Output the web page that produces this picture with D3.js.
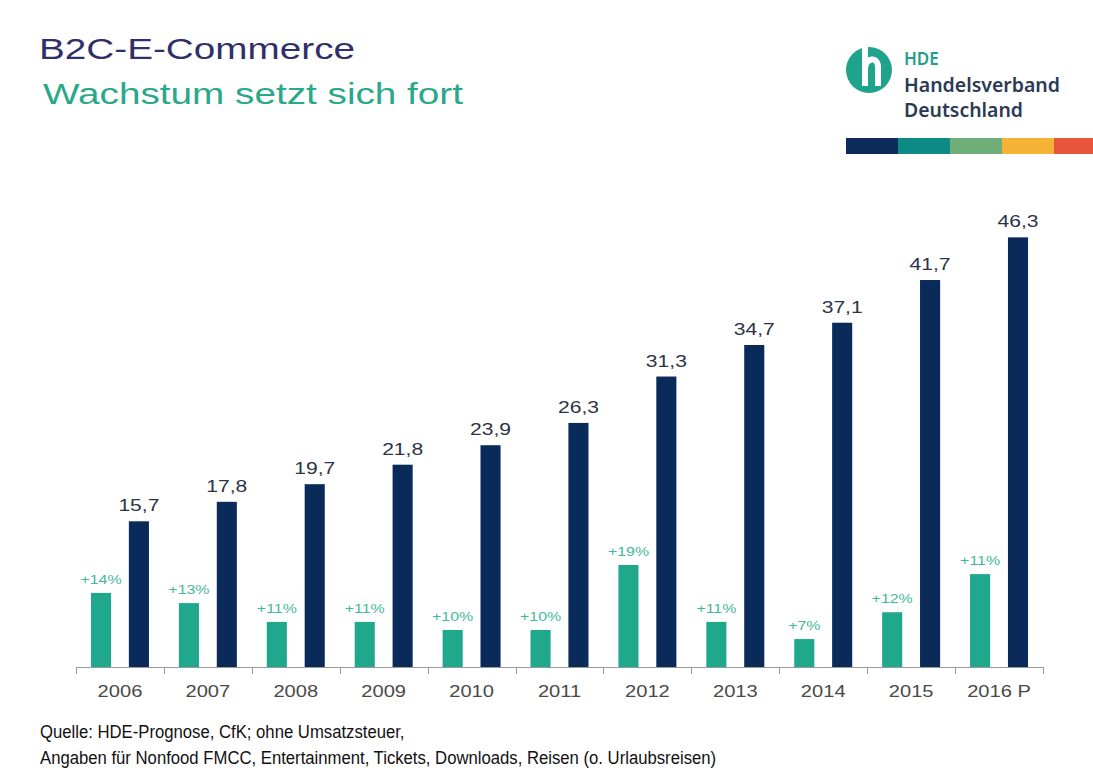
<!DOCTYPE html>
<html>
<head>
<meta charset="utf-8">
<script src="https://cdn.jsdelivr.net/npm/d3@7"></script>
<style>
  body { margin: 0; background: #fff; }
  svg { display: block; font-family: "Liberation Sans", Arial, sans-serif; }
</style>
</head>
<body>
<svg id="chart" width="1093" height="781"></svg>
<script>
// Umsatz B2C-E-Commerce in Mrd. Euro
var years = ['2006', '2007', '2008', '2009', '2010', '2011', '2012', '2013', '2014', '2015', '2016 P'];
var volume = [15.7, 17.8, 19.7, 21.8, 23.9, 26.3, 31.3, 34.7, 37.1, 41.7, 46.3];
var growthLabels = ['+14%', '+13%', '+11%', '+11%', '+10%', '+10%', '+19%', '+11%', '+7%', '+12%', '+11%'];
// growth bar heights as drawn in the source (not exactly proportional to labels)
var growthBar = [13.8, 11.9, 8.4, 8.4, 6.9, 6.9, 19.0, 8.4, 5.2, 10.2, 17.3];
var stripeColors = ['#0d2a5a', '#0e8a85', '#6fae78', '#f5b335', '#e8553a'];

var svg = d3.select('#chart');
var base = 667;

var x = d3.scaleBand().domain(years).range([76, 1043]).paddingInner(0).paddingOuter(0);
var xs = d3.scaleBand().domain(['g', 'v']).range([0, x.bandwidth()]).paddingInner(0.47).paddingOuter(0.395);
var y = d3.scaleLinear().domain([0, 50]).range([base, base - 464]);
var yg = d3.scaleLinear().domain([0, 20]).range([base, base - 107.4]);

// stretched text like the source picture
function sText(g, cx, cy, str, size, color, sx) {
  return g.append('text')
    .attr('transform', 'translate(' + cx + ',' + cy + ') scale(' + sx + ',1)')
    .attr('text-anchor', 'middle')
    .attr('font-size', size)
    .attr('fill', color)
    .text(str);
}

// titel
svg.append('text').attr('x', 39).attr('y', 59).attr('font-size', 30).attr('fill', '#2e2f6b')
  .attr('textLength', 316).attr('lengthAdjust', 'spacingAndGlyphs').text('B2C-E-Commerce');
svg.append('text').attr('x', 43).attr('y', 104).attr('font-size', 30).attr('fill', '#2aa88a')
  .attr('textLength', 420).attr('lengthAdjust', 'spacingAndGlyphs').text('Wachstum setzt sich fort');

// logo
var logo = svg.append('g');
logo.append('circle').attr('cx', 869).attr('cy', 70).attr('r', 23).attr('fill', '#20a38c');
logo.append('path')
  .attr('d', 'M865,47 V86 M865,70 C865,57 878,56 878,67 V86')
  .attr('fill', 'none').attr('stroke', '#fff').attr('stroke-width', 6);
logo.append('text').attr('x', 904).attr('y', 65).attr('font-family', '"Noto Sans", sans-serif')
  .attr('font-weight', 600).attr('font-size', 17).attr('fill', '#1fa08a').text('HDE');
logo.append('text').attr('x', 904).attr('y', 92).attr('font-family', '"Noto Sans", sans-serif')
  .attr('font-weight', 600).attr('font-size', 20).attr('fill', '#2b3a55')
  .attr('textLength', 156).attr('lengthAdjust', 'spacingAndGlyphs').text('Handelsverband');
logo.append('text').attr('x', 904).attr('y', 117).attr('font-family', '"Noto Sans", sans-serif')
  .attr('font-weight', 600).attr('font-size', 20).attr('fill', '#2b3a55')
  .attr('textLength', 119).attr('lengthAdjust', 'spacingAndGlyphs').text('Deutschland');

var sx = d3.scaleBand().domain(d3.range(stripeColors.length)).range([846, 1106]);
logo.selectAll('rect.stripe').data(stripeColors).enter().append('rect')
  .attr('class', 'stripe')
  .attr('x', function (d, i) { return sx(i); })
  .attr('y', 138)
  .attr('width', sx.bandwidth())
  .attr('height', 16)
  .attr('fill', function (d) { return d; });

// balken
var gBars = svg.append('g');
years.forEach(function (yr, i) {
  var x0 = x(yr);
  var gx = x0 + xs('g'), vx = x0 + xs('v');
  gBars.append('rect').attr('x', gx).attr('y', yg(growthBar[i]))
    .attr('width', xs.bandwidth()).attr('height', base - yg(growthBar[i])).attr('fill', '#1fa88b');
  gBars.append('rect').attr('x', vx).attr('y', y(volume[i]))
    .attr('width', xs.bandwidth()).attr('height', base - y(volume[i])).attr('fill', '#0a2b59');

  sText(gBars, gx + xs.bandwidth() / 2, yg(growthBar[i]) - 9, growthLabels[i], 13.5, '#45b89b', 1.18);
  sText(gBars, vx + xs.bandwidth() / 2, y(volume[i]) - 10, d3.format('.1f')(volume[i]).replace('.', ','), 17, '#2c3345', 1.24);
  sText(gBars, x0 + x.bandwidth() / 2, 697, yr, 16.5, '#4a4a4a', 1.22);
});

// achse
var axis = svg.append('g').attr('stroke', '#9a9a9a').attr('stroke-width', 1);
axis.append('line').attr('x1', 76).attr('x2', 1043).attr('y1', base + 0.5).attr('y2', base + 0.5);
var ticks = years.map(function (d) { return x(d); }).concat([x.range()[1]]);
axis.selectAll('line.tick').data(ticks).enter().append('line')
  .attr('class', 'tick')
  .attr('x1', function (d) { return Math.round(d) + 0.5; })
  .attr('x2', function (d) { return Math.round(d) + 0.5; })
  .attr('y1', base).attr('y2', base + 7);

// quelle
var foot = svg.append('g').attr('transform', 'translate(40,0) scale(0.954,1)')
  .attr('font-size', 17.5).attr('fill', '#111');
foot.append('text').attr('x', 0).attr('y', 738).text('Quelle: HDE-Prognose, CfK; ohne Umsatzsteuer,');
foot.append('text').attr('x', 0).attr('y', 764)
  .text('Angaben für Nonfood FMCC, Entertainment, Tickets, Downloads, Reisen (o. Urlaubsreisen)');
</script>
</body>
</html>
